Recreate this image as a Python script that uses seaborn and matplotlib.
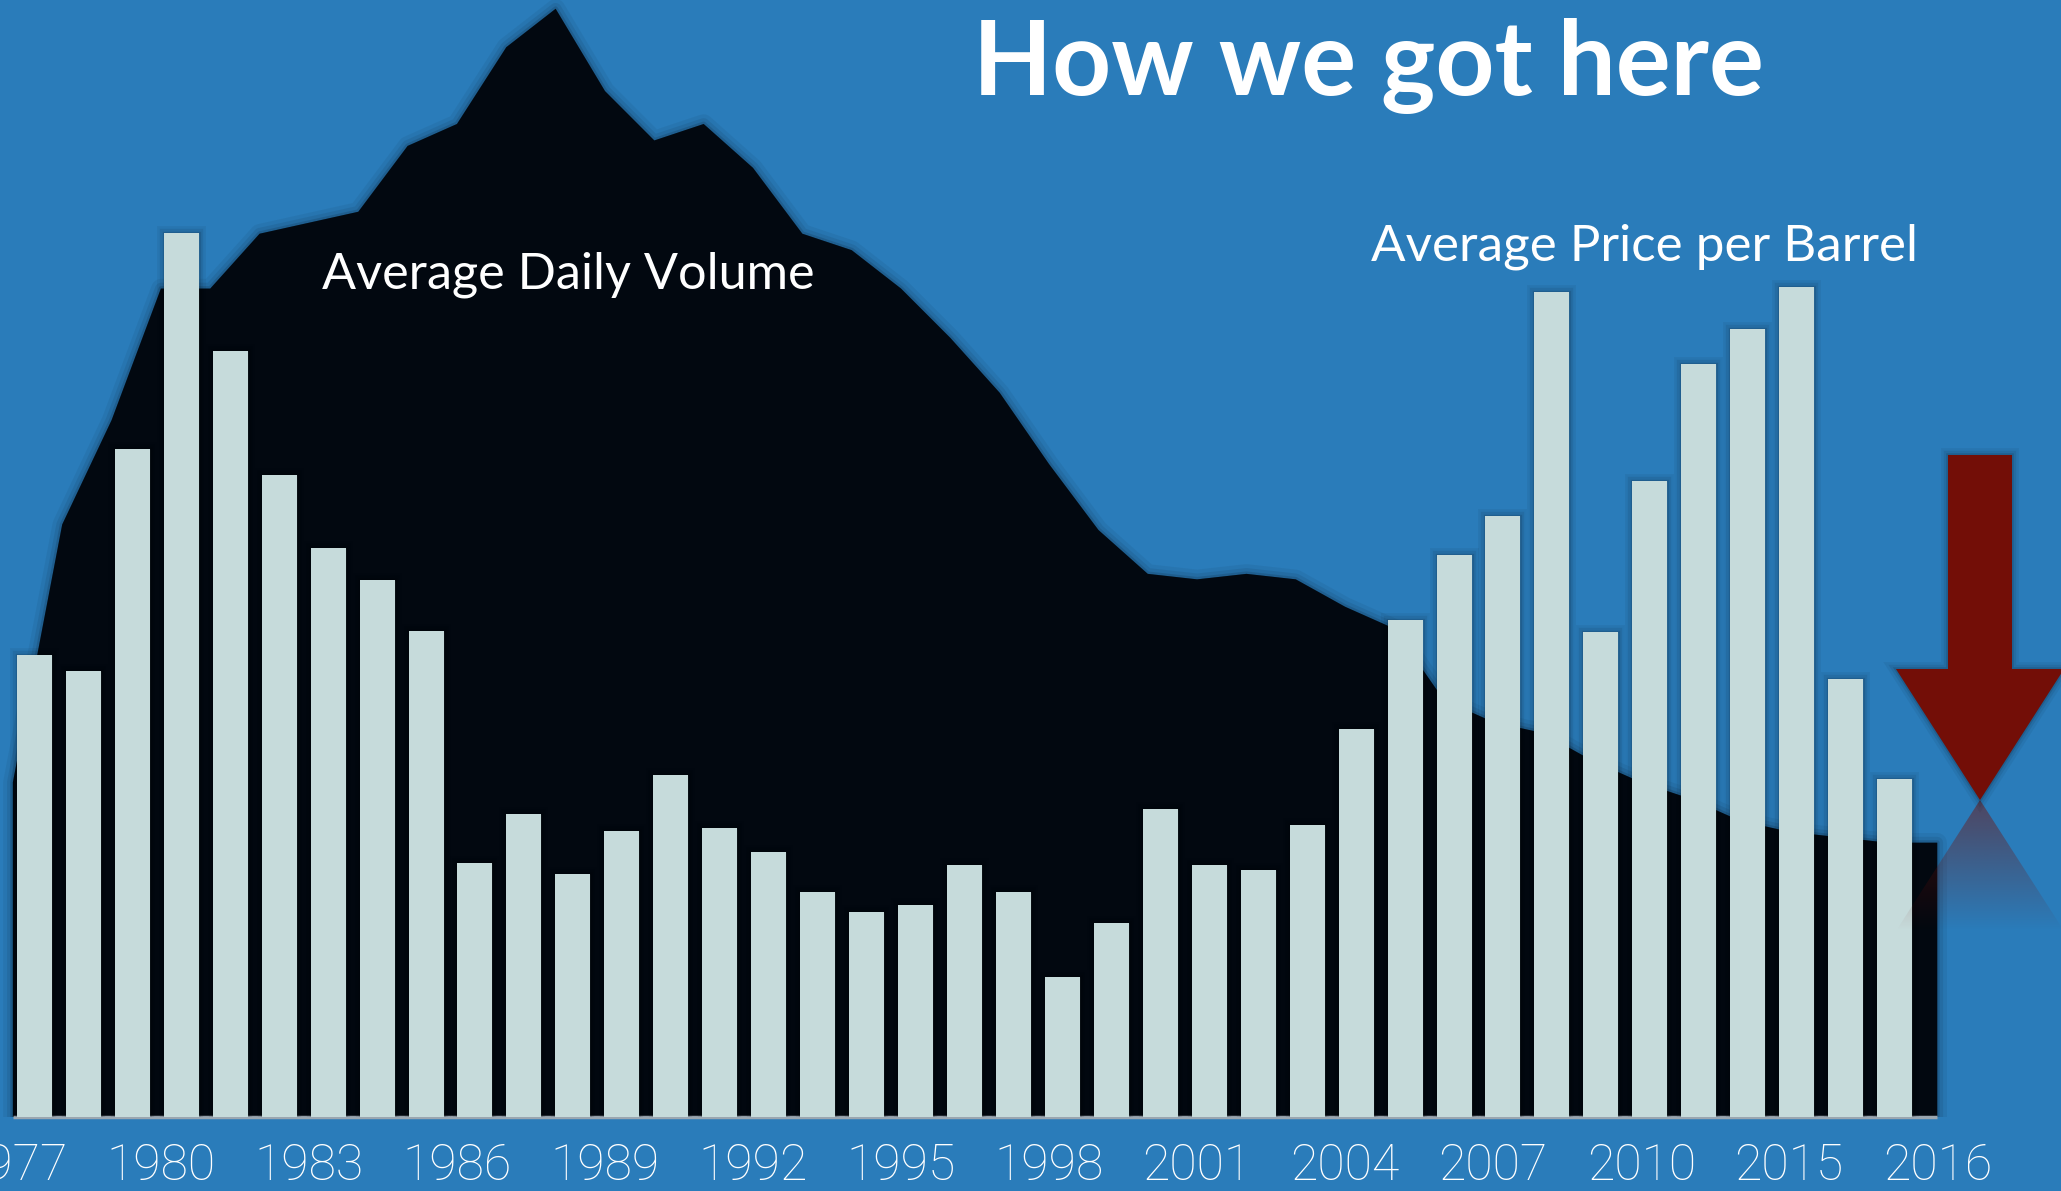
import numpy as np
import pandas as pd
import matplotlib
matplotlib.use("Agg")
import matplotlib.pyplot as plt
import seaborn as sns
from matplotlib import patheffects as pe
from matplotlib.patches import Polygon
from matplotlib.colors import to_rgb

# ---------------- data ----------------
bar_years = list(range(1977, 2016))
price = [59.4, 57.3, 85.9, 113.7, 98.5, 82.5, 73.2, 69.1, 62.5, 32.7,
         38.9, 31.3, 36.8, 44.0, 37.2, 34.1, 28.9, 26.3, 27.3, 32.4,
         28.9, 18.0, 24.9, 39.6, 32.4, 31.7, 37.6, 49.9, 63.9, 72.2,
         77.3, 106.1, 62.3, 81.8, 96.8, 101.3, 106.7, 56.3, 43.4]
vol_years = list(range(1977, 2017))
volume = [0.61, 1.08, 1.27, 1.51, 1.51, 1.61, 1.63, 1.65, 1.77, 1.81,
          1.95, 2.02, 1.87, 1.78, 1.81, 1.73, 1.61, 1.58, 1.51, 1.42,
          1.32, 1.19, 1.07, 0.99, 0.98, 0.99, 0.98, 0.93, 0.89, 0.76,
          0.72, 0.70, 0.65, 0.61, 0.58, 0.54, 0.52, 0.51, 0.50, 0.50]
tick_labels = ["1977", "1980", "1983", "1986", "1989", "1992", "1995",
               "1998", "2001", "2004", "2007", "2010", "2015", "2016"]
title = "How we got here"
label_volume = "Average Daily Volume"
label_price = "Average Price per Barrel"

# ---------------- style ----------------
W, H = 2061, 1191
BG = "#2a7cba"
BAR = "#c6dbdb"
AREA = "#020810"
RED = "#730e07"

sns.set_theme(style="white")
plt.rcParams["font.family"] = ["Lato", "DejaVu Sans"]

fig = plt.figure(figsize=(W / 100, H / 100), dpi=100)
fig.patch.set_facecolor(BG)

base_frac = 1 - 1117 / H
XLIM = (-0.703, 41.40)

def glow(w=10):
    return [pe.Stroke(linewidth=w, foreground="black", alpha=0.05),
            pe.Stroke(linewidth=w * 0.6, foreground="black", alpha=0.07),
            pe.Stroke(linewidth=w * 0.25, foreground="black", alpha=0.12),
            pe.Normal()]

# area (volume)
ax = fig.add_axes([0, base_frac, 1, 1117 / H])
ax.set_facecolor(BG)
vol_x = (np.array(vol_years) - vol_years[0]) * 1.008 - 0.44
poly = ax.fill_between(vol_x, volume, 0, color=AREA, lw=0, zorder=2)
poly.set_path_effects(glow(14))
ax.hlines(0, vol_x[0], vol_x[-1], color="#9aa6b0", lw=2.5, zorder=3, clip_on=False)
ax.set_ylim(0, 2.036)
ax.set_xlim(*XLIM)
for s in ax.spines.values():
    s.set_visible(False)
ax.set_yticks([])
ax.set_xticks(vol_x[::3])
ax.set_xticklabels(tick_labels, color="white", fontsize=36,
                   fontfamily=["Roboto", "DejaVu Sans"], fontweight="light")
ax.tick_params(axis="x", length=0, pad=18)
ax.set_xlabel("")
ax.set_ylabel("")

# bars (price)
ax2 = fig.add_axes([0, base_frac, 1, 1117 / H])
ax2.patch.set_visible(False)
df = pd.DataFrame({"year": [str(y) for y in bar_years], "price": price})
sns.barplot(data=df, x="year", y="price", ax=ax2, color=BAR, saturation=1,
            width=0.715, linewidth=0, edgecolor="none", errorbar=None)
for p in ax2.patches:
    p.set_path_effects(glow(10))
ax2.set_ylim(0, 143.6)
ax2.set_xlim(*XLIM)
ax2.set_xticks([])
ax2.set_yticks([])
ax2.set_xlabel("")
ax2.set_ylabel("")
for s in ax2.spines.values():
    s.set_visible(False)

# overlay for annotations
ov = fig.add_axes([0, 0, 1, 1], zorder=5)
ov.patch.set_visible(False)
ov.axis("off")

arrow = Polygon([(1948, 455), (2012, 455), (2012, 669), (2064, 669),
                 (1980, 800), (1896, 669), (1948, 669)],
                closed=True, facecolor=RED, edgecolor="none", zorder=5)
arrow.set_path_effects(glow(10))
ov.add_patch(arrow)

grad = np.zeros((120, 2, 4))
grad[..., :3] = to_rgb(RED)
grad[:, :, 3] = np.linspace(0.5, 0.0, 120)[:, None]
im = ov.imshow(grad, extent=(1896, 2064, 931, 800), aspect="auto", zorder=4,
               interpolation="bilinear")
tri = Polygon([(1980, 800), (1896, 931), (2064, 931)], closed=True,
              transform=ov.transData, facecolor="none", edgecolor="none")
im.set_clip_path(tri)

ov.text(973, 95, title, fontsize=74, fontweight="bold", color="white",
        ha="left", va="baseline")
ov.text(322, 289, label_volume, fontsize=36.3, color="white",
        ha="left", va="baseline")
ov.text(1371, 260, label_price, fontsize=36.8, color="white",
        ha="left", va="baseline")
ov.set_xlim(0, W)
ov.set_ylim(H, 0)

fig.savefig("out.png", dpi=100, facecolor=BG)
